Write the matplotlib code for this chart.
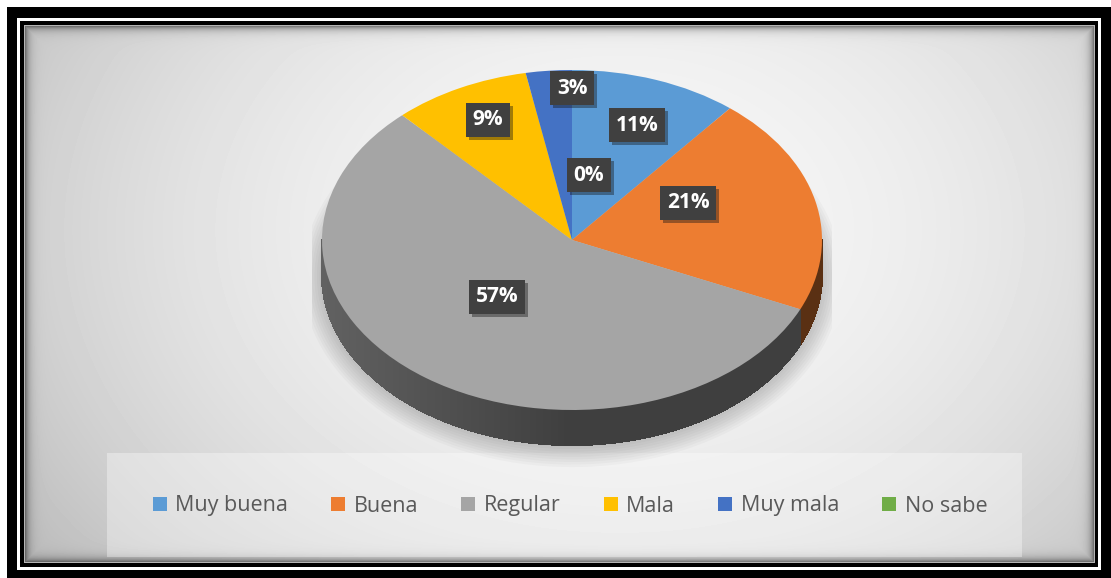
import numpy as np
import matplotlib.pyplot as plt
import matplotlib.patheffects as pe
from matplotlib.patches import Rectangle, Ellipse, Patch
from matplotlib.collections import PolyCollection

plt.rcParams['font.family'] = ['Open Sans', 'DejaVu Sans']

# Datos de la encuesta
categorias = ['Muy buena', 'Buena', 'Regular', 'Mala', 'Muy mala', 'No sabe']
porcentajes = [11, 21, 57, 9, 3, 0]
colores = ['#5b9bd5', '#ed7d31', '#a5a5a5', '#ffc000', '#4472c4', '#70ad47']

# posicion de cada etiqueta dentro de la torta (unidades del eje)
pos_etiquetas = [(0.26, 0.676), (0.464, 0.218), (-0.30, -0.335),
                 (-0.336, 0.706), (0.0, 0.894), (0.068, 0.382)]

W, H = 1111, 578
fig = plt.figure(figsize=(W / 100, H / 100), dpi=100)
fig.patch.set_facecolor('white')

# eje de fondo en pixeles
bg = fig.add_axes([0, 0, 1, 1])
bg.axis('off')

# marco doble
bg.add_patch(Rectangle((7, 7), W - 7, H - 7, fc='black', ec='none', zorder=0))
bg.add_patch(Rectangle((17, 18), 1084, 552, fc='white', ec='none', zorder=0))
bg.add_patch(Rectangle((20, 21), 1078, 546, fc='black', ec='none', zorder=0))
bg.add_patch(Rectangle((24, 25), 1071, 538, fc='#b5b5b5', ec='none', zorder=0))

# fondo con degradado y sombra interior
x0, x1, y0, y1 = 25, 1094, 26, 562
xx, yy = np.meshgrid(np.arange(x0, x1) + 0.5, np.arange(y0, y1) + 0.5)
r2 = ((xx - 620) / 560) ** 2 + ((yy - 230) / 420) ** 2
v = 0.965 - 0.135 * r2
dist = np.minimum.reduce([xx - x0, x1 - xx, yy - y0, y1 - yy])
v = v * (1 - 0.5 * np.exp(-dist / 4.0))
bg.imshow(v, cmap='gray', vmin=0, vmax=1, extent=(x0, x1, y1, y0),
          interpolation='bilinear', zorder=1)

# caja de la leyenda
bg.add_patch(Rectangle((107, 453), 915, 104, fc='white', ec='none',
                       alpha=0.35, zorder=2))

bg.set_aspect('auto')
bg.set_xlim(0, W)
bg.set_ylim(H, 0)

# torta en perspectiva: el circulo unitario se ve como elipse
ax = fig.add_axes([312 / W, (H - 470) / H, 520 / W, 410 / H])
wedges, _ = ax.pie(porcentajes, colors=colores, startangle=90,
                   counterclock=False, radius=1,
                   wedgeprops=dict(linewidth=0))
ax.set_aspect('auto')
ax.set_xlim(-1.04, 1.04)
ax.set_ylim(-230 / 170, 180 / 170)
ax.axis('off')

# sombra difusa debajo
prof = 35 / 170
for k in range(9):
    ax.add_patch(Ellipse((0, -prof - 0.01), 2.0 + 0.02 * k, 2.0 + 0.03 * k,
                         fc='black', ec='none', alpha=0.022, zorder=0.3))

# canto lateral de la parte delantera
total = sum(porcentajes)
bordes = 90 - 360 * np.cumsum([0] + porcentajes) / total
polys, cols = [], []
for i, c in enumerate(colores):
    a_ini = max(bordes[i + 1], -180)
    a_fin = min(bordes[i], 0)
    if a_fin <= a_ini:
        continue
    ang = np.linspace(a_ini, a_fin, max(2, int(2 * (a_fin - a_ini)) + 2))
    base = np.array(plt.matplotlib.colors.to_rgb(c))
    for a, b in zip(ang[:-1], ang[1:]):
        ta, tb = np.radians(a), np.radians(b)
        polys.append([(np.cos(ta), np.sin(ta)), (np.cos(tb), np.sin(tb)),
                      (np.cos(tb), np.sin(tb) - prof), (np.cos(ta), np.sin(ta) - prof)])
        m = np.radians((a + b) / 2)
        f = 0.38 + 0.21 * max(0.0, -np.cos(m))
        cols.append(base * f)
ax.add_collection(PolyCollection(polys, facecolors=cols, edgecolors=cols,
                                 linewidths=0.8, antialiaseds=False,
                                 zorder=0.8))

# etiquetas de porcentaje
for (x, y), p in zip(pos_etiquetas, porcentajes):
    t = ax.text(x, y, f'{p}%', ha='center', va='center', color='white',
                fontsize=15, fontweight='bold',
                bbox=dict(boxstyle='square,pad=0.32', fc='#404040', ec='none'),
                zorder=5)
    t.get_bbox_patch().set_path_effects(
        [pe.SimplePatchShadow(offset=(2, -2), alpha=0.4), pe.Normal()])

# leyenda
handles = [Patch(facecolor=c, edgecolor='none') for c in colores]
bg.legend(handles, categorias, loc='center', bbox_to_anchor=(570, 506),
          bbox_transform=bg.transData, ncol=6, frameon=False,
          prop={'size': 15.5}, labelcolor='#595959',
          handlelength=0.65, handleheight=0.65, handletextpad=0.4,
          columnspacing=2.0)

fig.savefig('out.png', dpi=100)
